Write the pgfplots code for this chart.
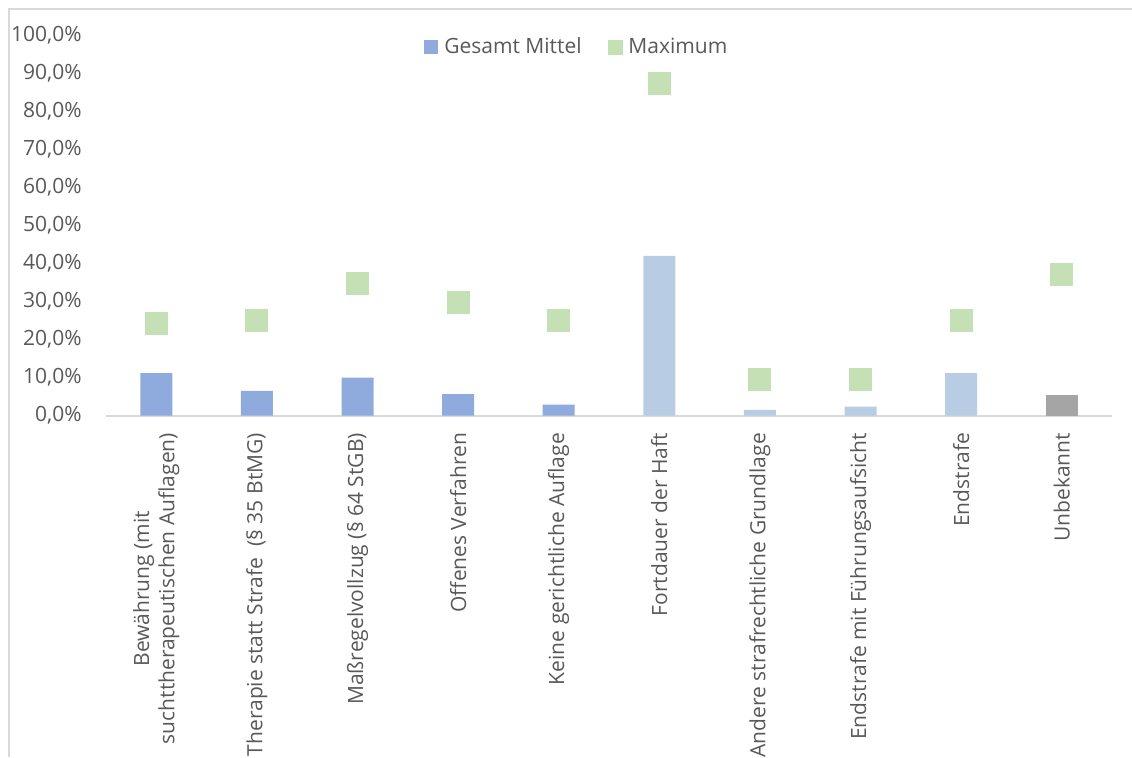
\documentclass[border=0pt]{standalone}
\usepackage{fontspec}
\setmainfont{Open Sans}
\usepackage{pgfplots}
\pgfplotsset{compat=1.18}
\definecolor{barblue}{HTML}{8FAADC}
\definecolor{barlight}{HTML}{B8CCE4}
\definecolor{bargrey}{HTML}{A5A5A5}
\definecolor{mkgreen}{HTML}{C5E0B4}
\definecolor{txt}{HTML}{595959}
\definecolor{axgray}{HTML}{D9D9D9}
\begin{document}
\fontsize{10.5pt}{12.6pt}\selectfont
\begin{tikzpicture}
\useasboundingbox (0pt,0pt) rectangle (566pt,378.5pt);
\draw[axgray, line width=1pt] (4.25pt,0pt) -- (4.25pt,373.75pt) -- (566pt,373.75pt);
\begin{axis}[
  at={(53pt,170.65pt)}, anchor=south west,
  scale only axis, width=503pt, height=190.35pt,
  xmin=-0.5, xmax=9.5, ymin=0, ymax=100,
  clip=false,
  axis line style={draw=none},
  major tick length=0pt,
  ytick={0,10,...,100},
  yticklabel={\pgfmathprintnumber[fixed,fixed zerofill,precision=1,use comma,assume math mode=true]{\tick}\%},
  yticklabel style={anchor=east, xshift=-8.5pt, text=txt, font=\fontsize{10.5pt}{12.6pt}\selectfont},
  xtick={0,...,9},
  xticklabels={{Bewährung (mit\\suchttherapeutischen Auflagen)},
    {Therapie statt Strafe\ \ (§ 35 BtMG)},
    {Maßregelvollzug (§ 64 StGB)},
    {Offenes Verfahren},
    {Keine gerichtliche Auflage},
    {Fortdauer der Haft},
    {Andere strafrechtliche Grundlage},
    {Endstrafe mit Führungsaufsicht},
    {Endstrafe},
    {Unbekannt}},
  xticklabel style={rotate=90, anchor=east, align=center, text=txt, font=\fontsize{10.5pt}{12.6pt}\selectfont},
  xticklabel shift=5pt,
  legend columns=2,
  legend style={at={(0.47,0.968)}, anchor=center, draw=none, fill=none,
    font=\fontsize{10.5pt}{12.6pt}\selectfont, text=txt,
    /tikz/every even column/.append style={column sep=10pt},
    nodes={inner xsep=3pt}},
]
\draw[axgray, line width=1pt] (axis cs:-0.5,0) -- (axis cs:9.5,0);
\addplot[ybar, bar width=16pt, bar shift=0pt, fill=barblue, draw=none,
  legend image code/.code={\fill[barblue] (0pt,-3.5pt) rectangle (7pt,3.5pt);}]
  coordinates {(0,11.2) (1,6.5) (2,10.0) (3,5.7) (4,2.9)};
\addlegendentry{Gesamt Mittel}
\addplot[only marks, color=mkgreen, mark=square*, mark size=5.5pt, mark options={fill=mkgreen, draw=mkgreen, line width=0pt},
  legend image code/.code={\fill[mkgreen] (0pt,-3.5pt) rectangle (7pt,3.5pt);}]
  coordinates {(0,24.3) (1,24.9) (2,34.8) (3,29.8) (4,24.9) (5,87.3) (6,9.4) (7,9.6) (8,24.9) (9,37.2)};
\addlegendentry{Maximum}
\addplot[ybar, bar width=16pt, bar shift=0pt, fill=barlight, draw=none, forget plot]
  coordinates {(5,42.0) (6,1.5) (7,2.4) (8,11.2)};
\addplot[ybar, bar width=16pt, bar shift=0pt, fill=bargrey, draw=none, forget plot]
  coordinates {(9,5.4)};
\end{axis}
\end{tikzpicture}
\end{document}
